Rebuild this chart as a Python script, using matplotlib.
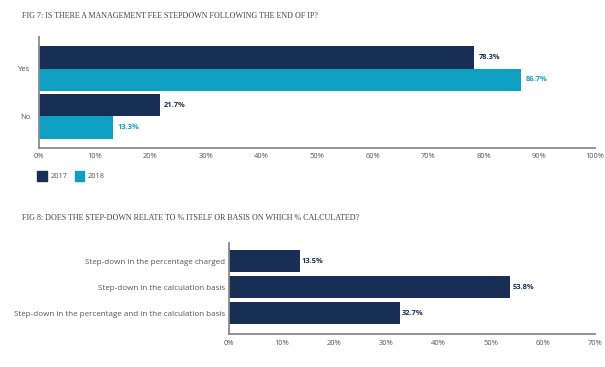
import matplotlib
matplotlib.use("Agg")
import matplotlib.pyplot as plt
from matplotlib.patches import Patch

NAVY = "#182e55"
TEAL = "#0f9fc2"
GREY = "#8a8a8a"
TEXT = "#555555"

fig7_title = "FIG 7: IS THERE A MANAGEMENT FEE STEPDOWN FOLLOWING THE END OF IP?"
fig7_categories = ["Yes", "No"]
fig7_2017 = [78.3, 21.7]
fig7_2018 = [86.7, 13.3]
fig7_series = ["2017", "2018"]

fig8_title = "FIG 8: DOES THE STEP-DOWN RELATE TO % ITSELF OR BASIS ON WHICH % CALCULATED?"
fig8_categories = [
    "Step-down in the percentage charged",
    "Step-down in the calculation basis",
    "Step-down in the percentage and in the calculation basis",
]
fig8_values = [13.5, 53.8, 32.7]

plt.rcParams["font.family"] = ["Open Sans", "DejaVu Sans"]

fig = plt.figure(figsize=(6.05, 3.67), dpi=100)
fig.patch.set_facecolor("white")


def style_axis(ax, xmax):
    for side in ["top", "right"]:
        ax.spines[side].set_visible(False)
    for side in ["left", "bottom"]:
        ax.spines[side].set_color(GREY)
        ax.spines[side].set_linewidth(1.3)
    ax.set_xlim(0, xmax)
    ax.set_xticks(range(0, xmax + 1, 10))
    ax.set_xticklabels([f"{t}%" for t in range(0, xmax + 1, 10)])
    ax.tick_params(axis="both", length=0, labelsize=5.4, labelcolor=TEXT)
    ax.tick_params(axis="x", pad=4)
    ax.tick_params(axis="y", pad=3)


# Fig 7
ax1 = fig.add_axes([0.0645, 0.597, 0.919, 0.302])
pos = list(range(len(fig7_categories)))
h = 0.46
ax1.barh([p - h / 2 for p in pos], fig7_2017, height=h, color=NAVY)
ax1.barh([p + h / 2 for p in pos], fig7_2018, height=h, color=TEAL)
for p, v in zip(pos, fig7_2017):
    ax1.text(v + 0.8, p - h / 2, f"{v}%", va="center", ha="left", fontsize=5.4,
             fontweight="bold", color=NAVY)
for p, v in zip(pos, fig7_2018):
    ax1.text(v + 0.8, p + h / 2, f"{v}%", va="center", ha="left", fontsize=5.4,
             fontweight="bold", color=TEAL)
ax1.set_yticks(pos)
ax1.set_yticklabels(fig7_categories)
ax1.set_ylim(1.656, -0.656)
style_axis(ax1, 100)
ax1.tick_params(axis="y", pad=6, labelsize=5.6)
ax1.legend(handles=[Patch(color=NAVY, label=fig7_series[0]), Patch(color=TEAL, label=fig7_series[1])],
           loc="upper left", bbox_to_anchor=(-0.003, -0.21), ncol=2, frameon=False,
           fontsize=5.4, labelcolor=TEXT, handlelength=1.3, handleheight=1.6,
           handletextpad=0.5, columnspacing=0.9, borderaxespad=0, borderpad=0)

fig.text(0.036, 0.956, fig7_title, fontsize=5.8, family="Liberation Serif",
         color="#444444", va="center", ha="left")

# Fig 8
ax2 = fig.add_axes([0.3785, 0.0899, 0.605, 0.248])
pos8 = list(range(len(fig8_categories)))
ax2.barh(pos8, fig8_values, height=0.85, color=NAVY)
for p, v in zip(pos8, fig8_values):
    ax2.text(v + 0.4, p, f"{v}%", va="center", ha="left", fontsize=5.4,
             fontweight="bold", color=NAVY)
ax2.set_yticks(pos8)
ax2.set_yticklabels(fig8_categories)
ax2.set_ylim(2.8, -0.7)
style_axis(ax2, 70)
ax2.tick_params(axis="y", labelsize=5.75)

fig.text(0.036, 0.406, fig8_title, fontsize=5.8, family="Liberation Serif",
         color="#444444", va="center", ha="left")

fig.savefig("out.png", dpi=100, facecolor="white")
